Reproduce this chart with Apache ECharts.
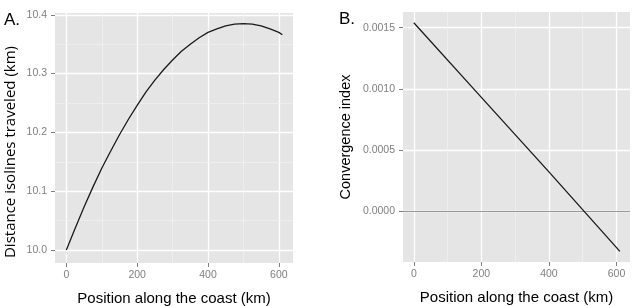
<!DOCTYPE html>
<html>
<head>
<meta charset="utf-8">
<script src="https://cdn.jsdelivr.net/npm/echarts@6/dist/echarts.min.js"></script>
<style>
html,body{margin:0;padding:0;background:#fff;}
#c{width:633px;height:306px;}
</style>
</head>
<body>
<div id="c"></div>
<script>
// Panel A: distance isolines traveled (km) vs position along coast (km)
var posA = [0, 25, 50, 75, 100, 125, 150, 175, 200, 225, 250, 275, 300, 325, 350, 375, 400, 425, 450, 475, 500, 525, 550, 575, 600, 610];
var distA = [10.000, 10.037, 10.073, 10.107, 10.139, 10.168, 10.196, 10.222, 10.246, 10.269, 10.289, 10.307, 10.323, 10.338, 10.350, 10.361, 10.370, 10.376, 10.381, 10.384, 10.385, 10.384, 10.381, 10.376, 10.370, 10.366];
// Panel B: convergence index vs position along coast (km)
var posB = [0, 200, 400, 610];
var convB = [0.00154, 0.00093, 0.00032, -0.00033];
// Minor grid positions
var minorXA = [100, 300, 500];
var minorYA = [10.05, 10.15, 10.25, 10.35];
var minorXB = [100, 300, 500];
var minorYB = [-0.00025, 0.00025, 0.00075, 0.00125];

var panelBg = '#e5e5e5';
var tickCol = '#7f7f7f';
var minorCol = '#f0f0f0';

function pairs(xs, ys){ return xs.map(function(x,i){ return [x, ys[i]]; }); }

function xAxisDef(idx){
  return {
    type:'value', gridIndex: idx, min:-32, max:640, splitNumber:3,
    axisLine:{show:false, onZero:false},
    axisTick:{show:true, length:4, lineStyle:{color:tickCol, width:1}},
    axisLabel:{color:tickCol, fontSize:10.5, fontFamily:'Liberation Sans, Arial', margin:7, showMinLabel:false, showMaxLabel:false},
    splitLine:{show:true, showMinLine:false, showMaxLine:false, lineStyle:{color:'#ffffff', width:1.3}},
    name:'Position along the coast (km)', nameLocation:'middle', nameGap:28,
    nameTextStyle:{color:'#000', fontSize:15, fontFamily:'Liberation Sans, Arial'}
  };
}

var option = {
  backgroundColor:'#ffffff',
  animation:false,
  graphic:[
    {type:'text', left:4, top:12, style:{text:'A.', font:'17px "Liberation Sans", Arial', fill:'#000'}},
    {type:'text', left:339, top:11, style:{text:'B.', font:'17px "Liberation Sans", Arial', fill:'#000'}},
    {type:'text', x:11, y:152, rotation:Math.PI/2,
     style:{text:'Distance isolines traveled (km)', font:'15px "Open Sans"', fill:'#000', align:'center', verticalAlign:'middle'}}
  ],
  grid:[
    {left:55, top:13, width:238, height:250, show:true, backgroundColor:panelBg, borderWidth:0, outerBoundsMode:'none', containLabel:false},
    {left:403, top:12, width:227, height:250, show:true, backgroundColor:panelBg, borderWidth:0, outerBoundsMode:'none', containLabel:false}
  ],
  xAxis:[xAxisDef(0), xAxisDef(1)],
  yAxis:[
    {type:'value', gridIndex:0, min:9.978, max:10.403, splitNumber:4,
     axisLine:{show:false, onZero:false},
     axisTick:{show:true, length:4, lineStyle:{color:tickCol}},
     axisLabel:{color:tickCol, fontSize:10.5, fontFamily:'Liberation Sans, Arial', margin:8, showMinLabel:false, showMaxLabel:false,
       formatter:function(v){ return v.toFixed(1); }},
     splitLine:{show:true, showMinLine:false, showMaxLine:false, lineStyle:{color:'#ffffff', width:1.3}}
    },
    {type:'value', gridIndex:1, min:-0.000417, max:0.001628, splitNumber:4,
     axisLine:{show:false, onZero:false},
     axisTick:{show:true, length:4, lineStyle:{color:tickCol}},
     axisLabel:{color:tickCol, fontSize:10.5, fontFamily:'Liberation Sans, Arial', margin:8, showMinLabel:false, showMaxLabel:false,
       formatter:function(v){ return v.toFixed(4); }},
     splitLine:{show:true, showMinLine:false, showMaxLine:false, lineStyle:{color:'#ffffff', width:1.3}},
     name:'Convergence index', nameLocation:'middle', nameGap:50,
     nameTextStyle:{color:'#000', fontSize:14.5, fontFamily:'Liberation Sans, Arial'}
    }
  ],
  series:[
    {type:'line', xAxisIndex:0, yAxisIndex:0, data:[], z:1, silent:true,
     markLine:{silent:true, symbol:'none', label:{show:false}, lineStyle:{color:minorCol, width:0.8, type:'solid'},
       data: minorXA.map(function(v){return {xAxis:v};}).concat(minorYA.map(function(v){return {yAxis:v};}))}},
    {type:'line', xAxisIndex:1, yAxisIndex:1, data:[], z:1, silent:true,
     markLine:{silent:true, symbol:'none', label:{show:false}, lineStyle:{color:minorCol, width:0.8, type:'solid'},
       data: minorXB.map(function(v){return {xAxis:v};}).concat(minorYB.map(function(v){return {yAxis:v};}))}},
    {type:'line', xAxisIndex:1, yAxisIndex:1, data:[], z:2, silent:true,
     markLine:{silent:true, symbol:'none', label:{show:false}, lineStyle:{color:'#999999', width:1.2, type:'solid'},
       data:[{yAxis:0}]}},
    {type:'line', xAxisIndex:0, yAxisIndex:0, data:pairs(posA, distA), smooth:false, showSymbol:false, z:5,
     lineStyle:{color:'#1a1a1a', width:1.3, join:'round'}},
    {type:'line', xAxisIndex:1, yAxisIndex:1, data:pairs(posB, convB), showSymbol:false, z:5,
     lineStyle:{color:'#1a1a1a', width:1.3}}
  ]
};
var chart = echarts.init(document.getElementById('c'), null, {renderer:'canvas'});
chart.setOption(option);
</script>
</body>
</html>
